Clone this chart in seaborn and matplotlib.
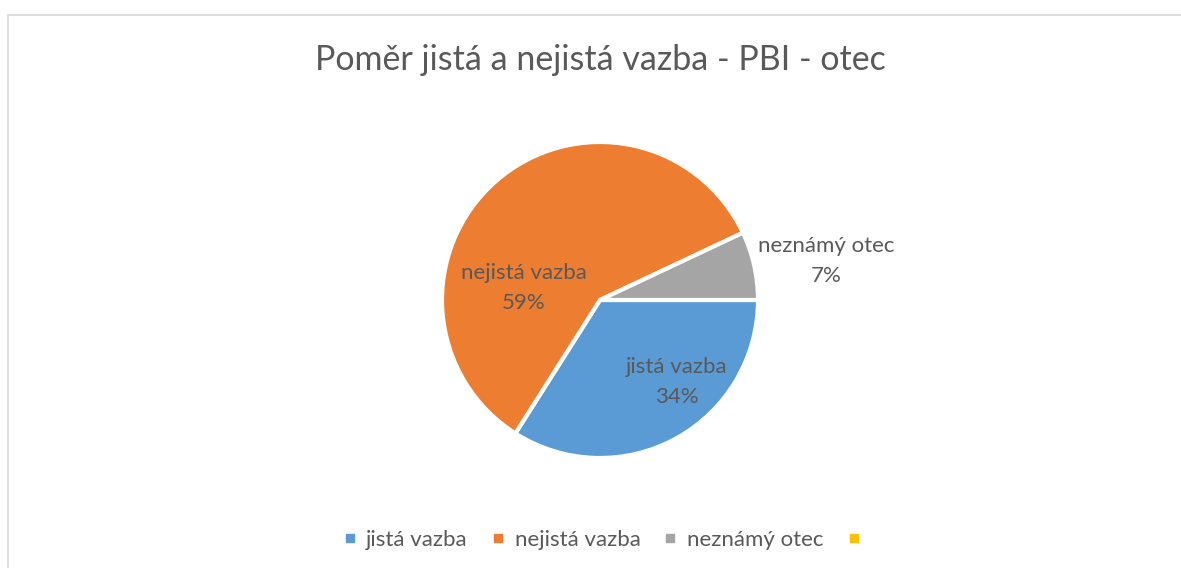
import matplotlib
matplotlib.use("Agg")
import matplotlib.pyplot as plt
import seaborn as sns
import numpy as np
from matplotlib.lines import Line2D
from matplotlib.patches import Rectangle

# Data
categories = ["jistá vazba", "nejistá vazba", "neznámý otec", ""]
shares = [34, 59, 7, 0]
colors = ["#5B9BD5", "#ED7D31", "#A5A5A5", "#FFC000"]
title = "Poměr jistá a nejistá vazba - PBI - otec"

# label placement (angle in degrees, distance as fraction of radius) - Excel "best fit"
label_polar = [(-47, 0.71), (171, 0.49), (9.8, 1.45)]

sns.set_theme(style="white")
plt.rcParams["font.family"] = ["Lato", "DejaVu Sans"]
text_color = "#595959"

W, H = 1181, 568
fig = plt.figure(figsize=(W / 100, H / 100), dpi=100)

# pie axes: centre (600, 300) px, box 320 px
cx, cy, half = 600, 300, 160
ax = fig.add_axes([(cx - half) / W, (H - cy - half) / H, 2 * half / W, 2 * half / H])

vals = [v for v in shares if v > 0]
cols = [c for c, v in zip(colors, shares) if v > 0]
names = [n for n, v in zip(categories, shares) if v > 0]
radius = 158 / 160
wedges, _ = ax.pie(vals, colors=cols, startangle=0, counterclock=False,
                   radius=radius, wedgeprops=dict(edgecolor="white", linewidth=3))
ax.set_xlim(-1, 1)
ax.set_ylim(-1, 1)
ax.set_aspect("equal")
ax.axis("off")

for name, v, (ang, r) in zip(names, vals, label_polar):
    x = r * radius * np.cos(np.radians(ang))
    y = r * radius * np.sin(np.radians(ang))
    ax.text(x, y, f"{name}\n{v}%", ha="center", va="center", fontsize=16,
            color=text_color, linespacing=1.6, clip_on=False)

fig.text(600 / W, 1 - 60 / H, title, ha="center", va="center", fontsize=24.5, color=text_color)

handles = [Line2D([0], [0], marker="s", linestyle="none", markersize=5.5,
                  markerfacecolor=c, markeredgecolor=c) for c in colors]
fig.legend(handles, categories, loc="center", bbox_to_anchor=(606 / W, 1 - 540 / H),
           ncol=4, frameon=False, fontsize=16, handlelength=0.7, handletextpad=0.4,
           columnspacing=1.0, labelcolor=text_color)

# chart area border
fig.add_artist(Rectangle((8 / W, -0.1), 1.2, (H - 15) / H + 0.1, transform=fig.transFigure,
                         fill=False, edgecolor="#D9D9D9", linewidth=1.2))

fig.savefig("out.png", dpi=100, facecolor="white")
